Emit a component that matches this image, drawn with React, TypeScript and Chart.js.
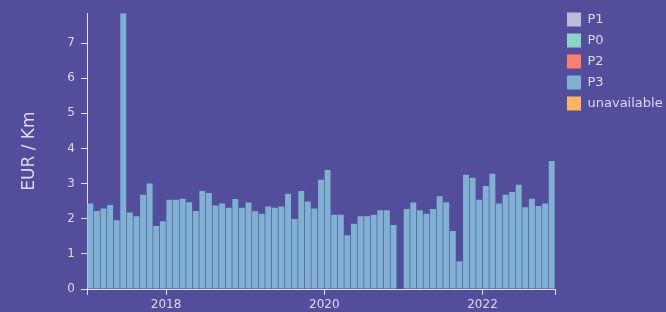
import React, { useEffect, useRef } from 'react';
import { Chart, registerables } from 'chart.js';

Chart.register(...registerables);

// ---- data ----
const months: string[] = [
  '2017-01','2017-02','2017-03','2017-04','2017-05','2017-06','2017-07','2017-08','2017-09','2017-10','2017-11','2017-12',
  '2018-01','2018-02','2018-03','2018-04','2018-05','2018-06','2018-07','2018-08','2018-09','2018-10','2018-11','2018-12',
  '2019-01','2019-02','2019-03','2019-04','2019-05','2019-06','2019-07','2019-08','2019-09','2019-10','2019-11','2019-12',
  '2020-01','2020-02','2020-03','2020-04','2020-05','2020-06','2020-07','2020-08','2020-09','2020-10','2020-11','2020-12',
  '2021-01','2021-02','2021-03','2021-04','2021-05','2021-06','2021-07','2021-08','2021-09','2021-10','2021-11','2021-12',
  '2022-01','2022-02','2022-03','2022-04','2022-05','2022-06','2022-07','2022-08','2022-09','2022-10','2022-11',
];

const p3Values: (number | null)[] = [
  2.43, 2.22, 2.29, 2.39, 1.96, 7.85, 2.18, 2.07, 2.68, 3.00, 1.79, 1.93,
  2.54, 2.54, 2.57, 2.47, 2.22, 2.79, 2.73, 2.38, 2.43, 2.31, 2.56, 2.31,
  2.46, 2.21, 2.14, 2.35, 2.31, 2.35, 2.71, 1.99, 2.79, 2.49, 2.29, 3.11,
  3.39, 2.11, 2.11, 1.53, 1.86, 2.07, 2.07, 2.11, 2.24, 2.24, 1.82, null,
  2.28, 2.46, 2.24, 2.14, 2.28, 2.64, 2.47, 1.65, 0.79, 3.25, 3.17, 2.54,
  2.93, 3.28, 2.43, 2.68, 2.76, 2.97, 2.33, 2.57, 2.36, 2.43, 3.64,
];

const seriesNames: string[] = ['P1', 'P0', 'P2', 'P3', 'unavailable'];
const seriesColors: string[] = ['#bebada', '#8dd3c7', '#fb8072', '#80b1d3', '#fdb462'];
const dataSeries = 'P3';

const yTickValues: number[] = [0, 1, 2, 3, 4, 5, 6, 7];
const yearLabels: string[] = ['2018', '2020', '2022'];
const yTitle = 'EUR / Km';

// ---- style ----
const BG = '#534e9c';
const TEXT = '#dcdaf0';
const AXIS = '#e4e2f2';
const FONT = '"DejaVu Sans", sans-serif';

export default function App() {
  const ref = useRef<HTMLCanvasElement | null>(null);

  useEffect(() => {
    const canvas = ref.current;
    if (!canvas) return;

    // tick positions for the x axis (month index of each labelled January, plus both ends)
    const yearPos: Record<number, string> = {};
    yearLabels.forEach((y) => {
      const idx = months.indexOf(`${y}-01`);
      if (idx >= 0) yearPos[idx] = y;
    });
    const xTickValues = [0, ...Object.keys(yearPos).map(Number), months.length];

    const legendFontSize = 13;
    const legendPad = 7;
    const boxW = 14;

    const legendShift = {
      id: 'legendShift',
      afterLayout(chart: any) {
        const lg = chart.legend;
        if (!lg) return;
        const w = lg.width;
        const h = lg.height;
        lg.left = 560;
        lg.right = 560 + w;
        lg.top = 5.5;
        lg.bottom = 5.5 + h;
      },
    };

    Chart.defaults.font.family = FONT;

    const chart = new Chart(canvas, {
      type: 'bar',
      data: {
        datasets: seriesNames.map((name, k) => ({
          label: name,
          data:
            name === dataSeries
              ? p3Values.map((v, i) => ({ x: i + 0.5, y: v }))
              : [],
          backgroundColor: seriesColors[k],
          borderWidth: 0,
          grouped: false,
          barPercentage: 0.9,
          categoryPercentage: 1,
        })) as any,
      },
      options: {
        responsive: false,
        animation: false,
        layout: { padding: { top: 12, right: 0, bottom: 0, left: 0 } },
        plugins: {
          tooltip: { enabled: false },
          legend: {
            position: 'right',
            align: 'start',
            maxWidth: 111,
            labels: {
              boxWidth: boxW,
              boxHeight: 14,
              padding: legendPad,
              color: TEXT,
              font: { size: legendFontSize, family: FONT },
            },
          } as any,
        },
        scales: {
          x: {
            type: 'linear',
            min: 0,
            max: months.length,
            offset: false,
            grid: {
              display: true,
              offset: false,
              drawOnChartArea: false,
              drawTicks: true,
              tickLength: 6,
              color: AXIS,
              lineWidth: 1,
            },
            border: { display: true, color: AXIS, width: 1 },
            ticks: {
              autoSkip: false,
              maxRotation: 0,
              color: TEXT,
              padding: 3,
              font: { size: 12, family: FONT },
              callback: (value: any) => yearPos[Number(value)] ?? '',
            },
            afterBuildTicks: (scale: any) => {
              scale.ticks = xTickValues.map((v) => ({ value: v }));
            },
            afterFit: (scale: any) => {
              scale.height = 23;
            },
          } as any,
          y: {
            type: 'linear',
            min: 0,
            max: Math.max(...(p3Values.filter((v) => v !== null) as number[])),
            grid: {
              display: true,
              drawOnChartArea: false,
              drawTicks: true,
              tickLength: 6,
              color: AXIS,
              lineWidth: 1,
            },
            border: { display: true, color: AXIS, width: 1 },
            ticks: {
              color: TEXT,
              padding: 6,
              font: { size: 12, family: FONT },
              callback: (value: any) => String(value),
            },
            afterBuildTicks: (scale: any) => {
              scale.ticks = yTickValues.map((v) => ({ value: v }));
            },
            title: {
              display: true,
              text: yTitle,
              color: TEXT,
              font: { size: 17, family: FONT },
              padding: { top: 19, bottom: 0 },
            },
            afterFit: (scale: any) => {
              scale.width = 87;
            },
          } as any,
        },
      },
      plugins: [legendShift],
    });

    return () => chart.destroy();
  }, []);

  return (
    <div
      style={{
        position: 'absolute',
        left: 0,
        top: 0,
        width: 666,
        height: 312,
        background: BG,
      }}
    >
      <canvas ref={ref} width={666} height={312} style={{ display: 'block' }} />
    </div>
  );
}
